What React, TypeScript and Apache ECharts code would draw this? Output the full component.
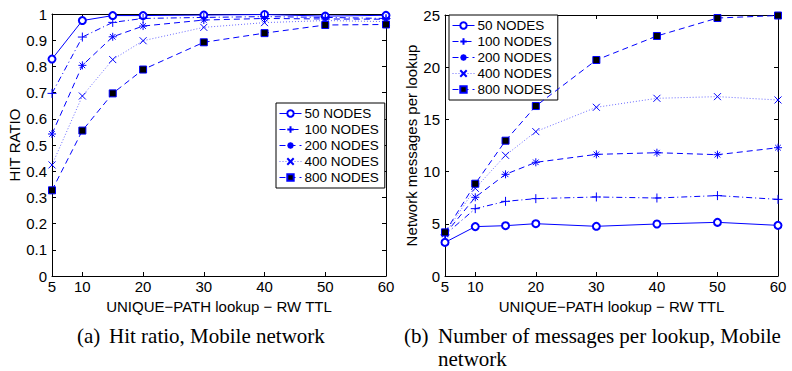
import React, { useEffect, useRef } from "react";
import * as echarts from "echarts";

const ttlValues = [5, 10, 15, 20, 30, 40, 50, 60];
const xTickValues = [5, 10, 20, 30, 40, 50, 60];
const seriesNames = ["50 NODES", "100 NODES", "200 NODES", "400 NODES", "800 NODES"];

const hit50 = [0.828, 0.975, 0.994, 0.994, 0.996, 0.998, 0.992, 0.995];
const hit100 = [0.697, 0.912, 0.968, 0.983, 0.987, 0.99, 0.987, 0.983];
const hit200 = [0.542, 0.804, 0.913, 0.954, 0.977, 0.983, 0.981, 0.98];
const hit400 = [0.424, 0.687, 0.826, 0.898, 0.949, 0.967, 0.975, 0.971];
const hit800 = [0.327, 0.555, 0.697, 0.788, 0.892, 0.927, 0.958, 0.96];

const msg50 = [3.22, 4.73, 4.82, 5.01, 4.76, 4.98, 5.14, 4.85];
const msg100 = [3.95, 6.45, 7.15, 7.41, 7.57, 7.47, 7.7, 7.34];
const msg200 = [4.0, 7.54, 9.74, 10.89, 11.65, 11.81, 11.62, 12.29];
const msg400 = [4.05, 8.4, 11.56, 13.83, 16.16, 17.02, 17.18, 16.86];
const msg800 = [4.18, 8.84, 12.96, 16.28, 20.69, 22.99, 24.71, 24.95];

const hitTicks = [0, 0.1, 0.2, 0.3, 0.4, 0.5, 0.6, 0.7, 0.8, 0.9, 1];
const msgTicks = [0, 5, 10, 15, 20, 25];

const BLUE = "#0000ff";
const FONT = "Liberation Sans";

const styles = [
  { symbol: "emptyCircle", size: 7, line: "solid", lineColor: BLUE, fill: BLUE, border: BLUE },
  { symbol: "path://M5,0L5,10M0,5L10,5", size: 9, line: [6, 3, 1, 3], lineColor: BLUE, fill: BLUE, border: BLUE },
  { symbol: "path://M5,0L5,10M0,5L10,5M1.5,1.5L8.5,8.5M1.5,8.5L8.5,1.5", size: 8, line: [6, 4], lineColor: BLUE, fill: BLUE, border: BLUE },
  { symbol: "path://M0,0L10,10M0,10L10,0", size: 7, line: [1, 2], lineColor: "#6b6bff", fill: BLUE, border: BLUE },
  { symbol: "rect", size: 7, line: [6, 4], lineColor: BLUE, fill: "#000000", border: BLUE },
];

function buildSeries(data: number[][], idx: number) {
  return data.map((arr, i) => ({
    type: "line",
    name: seriesNames[i],
    xAxisIndex: idx * 2,
    yAxisIndex: idx * 2,
    data: ttlValues.map((x, j) => [x, arr[j]]),
    symbol: styles[i].symbol,
    symbolSize: styles[i].size,
    showAllSymbol: true,
    lineStyle: { color: styles[i].lineColor, width: 1, type: styles[i].line },
    itemStyle: { color: styles[i].fill, borderColor: styles[i].border, borderWidth: 1 },
    emphasis: { disabled: true },
    z: 3 + i,
  }));
}

function xAxes(gridIndex: number) {
  const base = {
    type: "value",
    gridIndex,
    min: 5,
    max: 60,
    axisLine: { show: true, onZero: false, lineStyle: { color: "#000", width: 1 } },
    axisTick: { show: true, inside: true, length: 4, customValues: xTickValues, lineStyle: { color: "#000" } },
    splitLine: { show: false },
  };
  return [
    {
      ...base,
      position: "bottom",
      name: "UNIQUE\u2212PATH lookup \u2212 RW TTL",
      nameLocation: "middle",
      nameGap: 18,
      nameTextStyle: { fontFamily: FONT, fontSize: 15, color: "#000" },
      axisLabel: { show: true, customValues: xTickValues, margin: 3, fontFamily: FONT, fontSize: 15, color: "#000" },
    },
    { ...base, position: "top", axisLabel: { show: false } },
  ];
}

function yAxes(gridIndex: number, max: number, interval: number, name: string, gap: number, ticks: number[]) {
  const base = {
    type: "value",
    gridIndex,
    min: 0,
    max,
    interval,
    axisLine: { show: true, onZero: false, lineStyle: { color: "#000", width: 1 } },
    axisTick: { show: true, inside: true, length: 4, lineStyle: { color: "#000" } },
    splitLine: { show: false },
  };
  return [
    {
      ...base,
      position: "left",
      name,
      nameLocation: "middle",
      nameGap: gap,
      nameTextStyle: { fontFamily: FONT, fontSize: 15, color: "#000" },
      axisLabel: {
        show: true,
        margin: 5,
        fontFamily: FONT,
        fontSize: 15,
        color: "#000",
        formatter: (v: number) => {
          const t = ticks.find((k) => Math.abs(k - v) < 1e-6);
          return t === undefined ? "" : String(t);
        },
      },
    },
    { ...base, position: "right", axisLabel: { show: false } },
  ];
}

function legend(left: number, top: number) {
  return {
    data: seriesNames,
    orient: "vertical",
    left,
    top,
    itemWidth: 22,
    itemHeight: 8,
    itemGap: 1,
    padding: [3, 6, 3, 3],
    borderColor: "#000",
    borderWidth: 1,
    backgroundColor: "#fff",
    selectedMode: false,
    lineStyle: { width: 1 },
    textStyle: { fontFamily: FONT, fontSize: 13.5, lineHeight: 15, color: "#000", padding: [0, 0, 0, -2] },
  };
}

export default function App() {
  const ref = useRef<HTMLDivElement>(null);
  useEffect(() => {
    if (!ref.current) return;
    const chart = echarts.init(ref.current, null, { renderer: "svg" });
    const captionFont = '21px "Liberation Serif"';
    chart.setOption({
      animation: false,
      backgroundColor: "#fff",
      grid: [
        { left: 52, top: 14, width: 334, height: 262, show: false },
        { left: 445, top: 15, width: 333, height: 261, show: false },
      ],
      xAxis: [...xAxes(0), ...xAxes(1)],
      yAxis: [
        ...yAxes(0, 1, 0.1, "HIT RATIO", 27, hitTicks),
        ...yAxes(1, 25, 5, "Network messages per lookup", 22, msgTicks),
      ],
      legend: [legend(276, 103), legend(449, 15)],
      series: [
        ...buildSeries([hit50, hit100, hit200, hit400, hit800], 0),
        ...buildSeries([msg50, msg100, msg200, msg400, msg800], 1),
      ],
      graphic: [
        { type: "text", x: 77, y: 336, style: { text: "(a)", font: captionFont, fill: "#000", verticalAlign: "middle" } },
        { type: "text", x: 109, y: 336, style: { text: "Hit ratio, Mobile network", font: captionFont, fill: "#000", verticalAlign: "middle" } },
        { type: "text", x: 404, y: 336, style: { text: "(b)", font: captionFont, fill: "#000", verticalAlign: "middle" } },
        { type: "text", x: 438, y: 336, style: { text: "Number of messages per lookup, Mobile", font: captionFont, fill: "#000", verticalAlign: "middle" } },
        { type: "text", x: 438, y: 359, style: { text: "network", font: captionFont, fill: "#000", verticalAlign: "middle" } },
      ],
    });
    return () => chart.dispose();
  }, []);
  return (
    <div
      ref={ref}
      style={{ position: "fixed", left: 0, top: 0, width: 792, height: 371, background: "#fff" }}
    />
  );
}
